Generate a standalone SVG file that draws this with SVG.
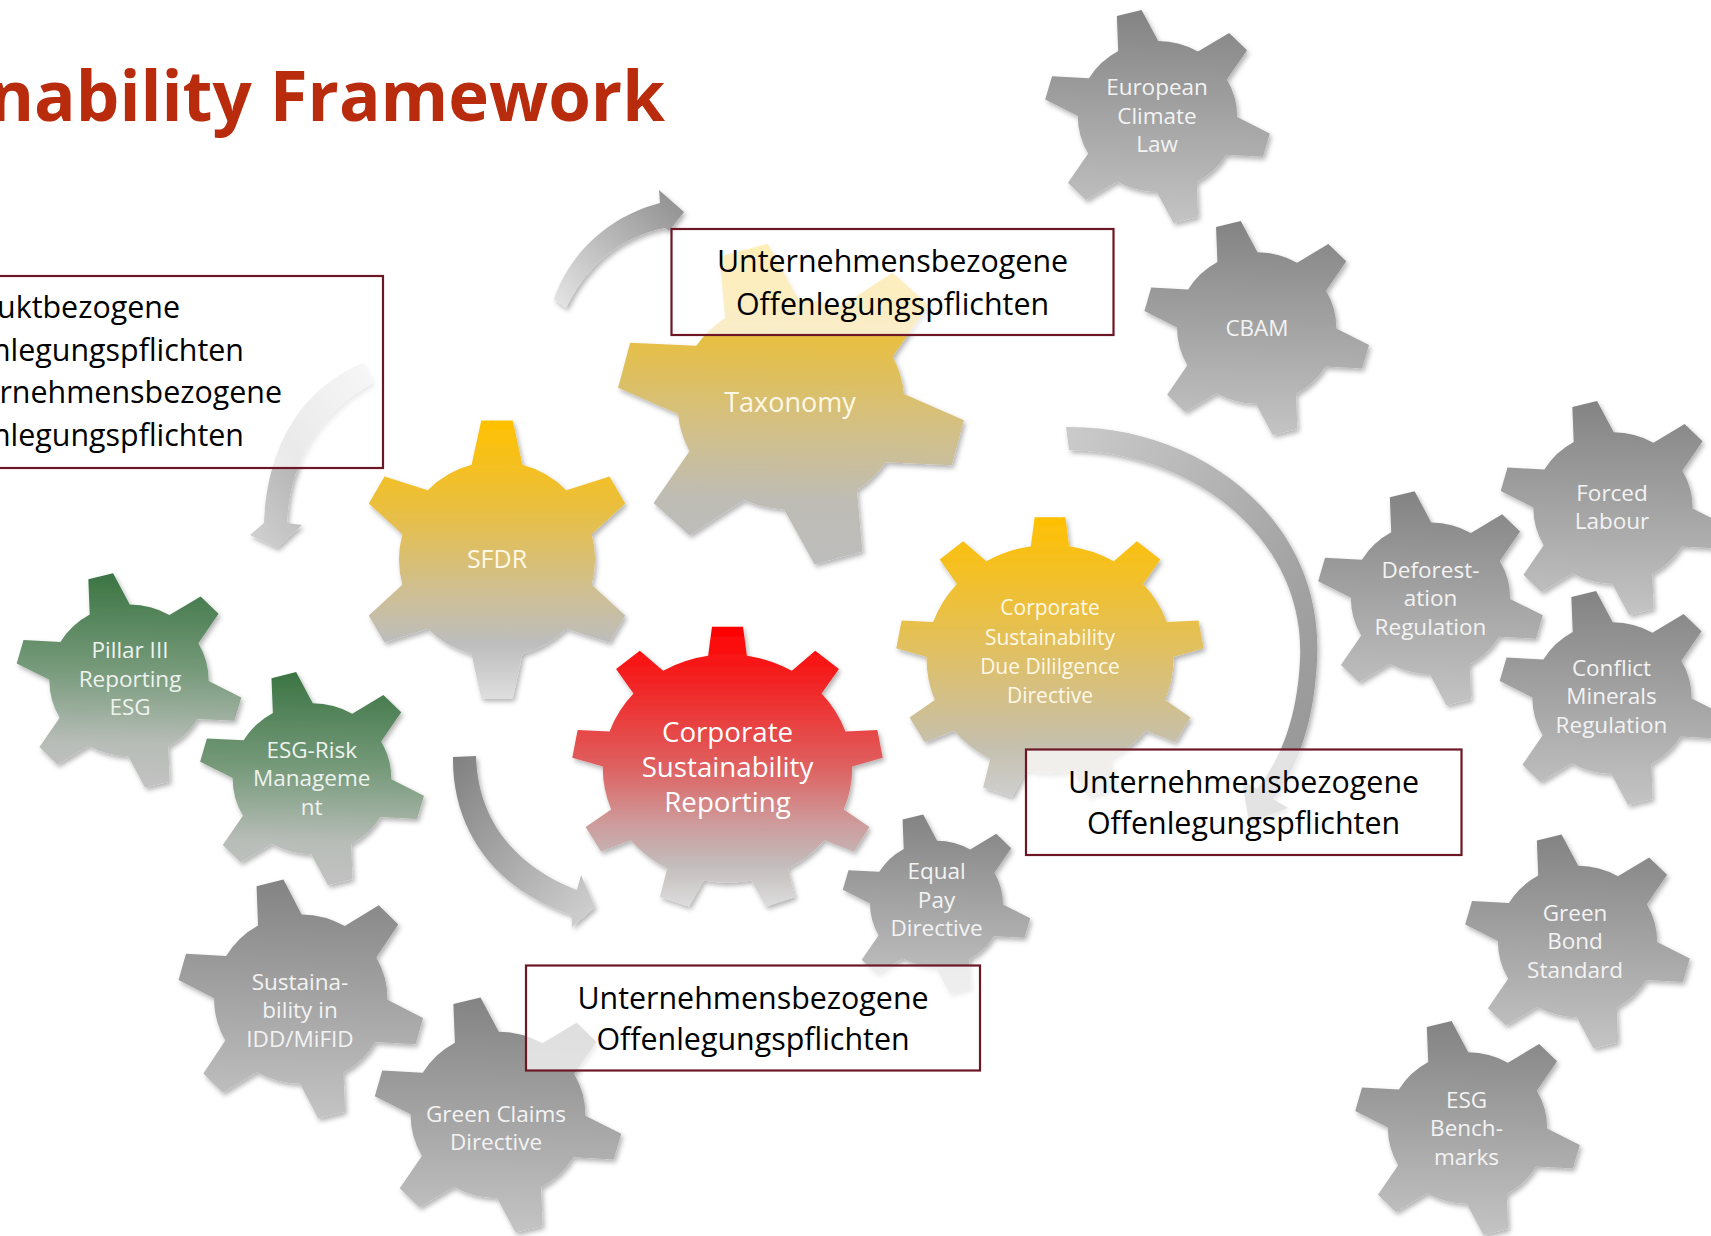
<svg xmlns="http://www.w3.org/2000/svg" width="1711" height="1236" viewBox="0 0 1711 1236">
<defs>
<style>
.t{font-family:"Open Sans","Noto Sans","DejaVu Sans",sans-serif;text-anchor:middle}
.gw{fill:#F3F3F3;font-size:22.5px}
.gg{fill:#EEF3EE;font-size:22.5px}
.gy{fill:#FFF8E6}
.bt{fill:#000;font-size:30.4px}
.box{fill:#fff;fill-opacity:0.72;stroke:#6D1625;stroke-width:2.2}
.title{font-family:"Open Sans","Noto Sans",sans-serif;font-weight:700;font-size:69px;fill:#B92B0D;text-anchor:end}
</style>
<path id="g6" d="M-18.3,-68.08 L-11.3,-100 L11.3,-100 L18.3,-68.08 A70.5,70.5 0 0 1 49.81,-49.89 L80.95,-59.79 L92.25,-40.21 L68.11,-18.19 A70.5,70.5 0 0 1 68.11,18.19 L92.25,40.21 L80.95,59.79 L49.81,49.89 A70.5,70.5 0 0 1 18.3,68.08 L11.3,100 L-11.3,100 L-18.3,68.08 A70.5,70.5 0 0 1 -49.81,49.89 L-80.95,59.79 L-92.25,40.21 L-68.11,18.19 A70.5,70.5 0 0 1 -68.11,-18.19 L-92.25,-40.21 L-80.95,-59.79 L-49.81,-49.89 A70.5,70.5 0 0 1 -18.3,-68.08 Z"/>
<path id="gT" d="M-22,-62.23 L-14.5,-100 L14.5,-100 L22,-62.23 A66,66 0 0 1 42.89,-50.17 L79.35,-62.56 L93.85,-37.44 L64.89,-12.07 A66,66 0 0 1 64.89,12.07 L93.85,37.44 L79.35,62.56 L42.89,50.17 A66,66 0 0 1 22,62.23 L14.5,100 L-14.5,100 L-22,62.23 A66,66 0 0 1 -42.89,50.17 L-79.35,62.56 L-93.85,37.44 L-64.89,12.07 A66,66 0 0 1 -64.89,-12.07 L-93.85,-37.44 L-79.35,-62.56 L-42.89,-50.17 A66,66 0 0 1 -22,-62.23 Z"/>
<path id="g9" d="M-12.5,-79.52 L-10,-100 L10,-100 L12.5,-79.52 A80.5,80.5 0 0 1 41.54,-68.95 L56.62,-83.03 L71.94,-70.17 L60.69,-52.88 A80.5,80.5 0 0 1 76.14,-26.11 L96.74,-27.21 L100.22,-7.51 L80.48,-1.49 A80.5,80.5 0 0 1 75.11,28.94 L91.6,41.34 L81.6,58.66 L62.61,50.59 A80.5,80.5 0 0 1 38.95,70.45 L43.6,90.55 L24.8,97.39 L15.45,79 A80.5,80.5 0 0 1 -15.45,79 L-24.8,97.39 L-43.6,90.55 L-38.95,70.45 A80.5,80.5 0 0 1 -62.61,50.59 L-81.6,58.66 L-91.6,41.34 L-75.11,28.94 A80.5,80.5 0 0 1 -80.48,-1.49 L-100.22,-7.51 L-96.74,-27.21 L-76.14,-26.11 A80.5,80.5 0 0 1 -60.69,-52.88 L-71.94,-70.17 L-56.62,-83.03 L-41.54,-68.95 A80.5,80.5 0 0 1 -12.5,-79.52 Z"/>
<linearGradient id="gGray" x1="0.625" y1="0.016" x2="0.375" y2="0.984"><stop offset="0" stop-color="#838383"/><stop offset="1" stop-color="#C4C4C4"/></linearGradient>
<linearGradient id="gGreen" x1="0.625" y1="0.016" x2="0.375" y2="0.984"><stop offset="0" stop-color="#3B7443"/><stop offset="0.45" stop-color="#769A7A"/><stop offset="0.8" stop-color="#B8BDB8"/><stop offset="1" stop-color="#C2C2C2"/></linearGradient>
<linearGradient id="gSFDR" x1="0" y1="0" x2="0" y2="1"><stop offset="0" stop-color="#FFC100"/><stop offset="0.3" stop-color="#EBBF3C"/><stop offset="0.6" stop-color="#D0BF8E"/><stop offset="0.8" stop-color="#BDBDBD"/><stop offset="1" stop-color="#DEDEDE"/></linearGradient>
<linearGradient id="gTax" x1="0.638" y1="0.02" x2="0.362" y2="0.98"><stop offset="0" stop-color="#FFC000"/><stop offset="0.35" stop-color="#E3BF4F"/><stop offset="0.6" stop-color="#D1C08C"/><stop offset="0.8" stop-color="#BEBCB4"/><stop offset="1" stop-color="#BDBDBD"/></linearGradient>
<linearGradient id="gCSDDD" x1="0" y1="0" x2="0" y2="1"><stop offset="0" stop-color="#FFC000"/><stop offset="0.3" stop-color="#EDC03A"/><stop offset="0.6" stop-color="#D7C07E"/><stop offset="0.82" stop-color="#C5C0AE"/><stop offset="1" stop-color="#CFCFCF"/></linearGradient>
<linearGradient id="gCSR" x1="0" y1="0" x2="0" y2="1"><stop offset="0" stop-color="#FF0000"/><stop offset="0.25" stop-color="#EF2D2D"/><stop offset="0.5" stop-color="#DF6060"/><stop offset="0.7" stop-color="#CE9A9A"/><stop offset="0.85" stop-color="#C3BCBC"/><stop offset="1" stop-color="#DDDDDD"/></linearGradient>
<linearGradient id="gA1" x1="0" y1="1" x2="1" y2="0"><stop offset="0" stop-color="#E6E6E6"/><stop offset="1" stop-color="#8C8C8C"/></linearGradient>
<linearGradient id="gA2" x1="1" y1="0" x2="0" y2="1"><stop offset="0" stop-color="#E3E3E3"/><stop offset="0.55" stop-color="#B3B3B3"/><stop offset="1" stop-color="#D2D2D2"/></linearGradient>
<linearGradient id="gA3" x1="0" y1="0" x2="1" y2="1"><stop offset="0" stop-color="#808080"/><stop offset="1" stop-color="#D3D3D3"/></linearGradient>
<linearGradient id="gA4" x1="0" y1="0" x2="1" y2="1"><stop offset="0" stop-color="#CBCBCB"/><stop offset="0.6" stop-color="#A5A5A5"/><stop offset="1" stop-color="#939393"/></linearGradient>
<filter id="sh" x="-10%" y="-10%" width="125%" height="125%"><feDropShadow dx="2" dy="3" stdDeviation="2.5" flood-color="#000" flood-opacity="0.3"/></filter>
</defs>
<rect width="1711" height="1236" fill="#fff"/>
<text class="title" x="665" y="121">nability Framework</text>

<g id="connectors">
<path filter="url(#sh)" fill="url(#gA1)" d="M554,299 C569,254 609,216 660,203 L659,190 L684,212 L669,231 L665,228 C621,236 586,266 566,308 Z"/>
<path filter="url(#sh)" fill="url(#gA2)" d="M363,363 C310,385 268,435 264,523 L250,535 L277,548 L302,525 L287,523 C290,460 320,412 373,383 Z"/>
<path filter="url(#sh)" fill="url(#gA3)" d="M453,757 C452,830 495,890 572,915 L572,927 L595,907 L581,875 L577,890 C520,868 478,825 476,756 Z"/>
<path filter="url(#sh)" fill="url(#gA4)" d="M1066,427 C1200,425 1325,520 1317,660 C1314,725 1297,768 1273,799 L1288,808 L1249,822 L1242,780 L1257,789 C1280,760 1297,720 1300,660 C1306,540 1195,452 1069,450 Z"/>
</g>

<g id="gear-taxonomy">
<g filter="url(#sh)"><use href="#gT" transform="translate(791 404) scale(1.72 1.6) rotate(-16)" fill="url(#gTax)"/></g>
<text class="t gy" x="790" y="412" font-size="27">Taxonomy</text>
</g>
<g id="gear-sfdr">
<g filter="url(#sh)"><use href="#g6" transform="translate(497 559.5) scale(1.39 1.39)" fill="url(#gSFDR)"/></g>
<text class="t gy" x="497" y="568" font-size="25">SFDR</text>
</g>
<g id="gear-csddd">
<g filter="url(#sh)"><use href="#g9" transform="translate(1050 659) scale(1.534 1.418)" fill="url(#gCSDDD)"/></g>
<text class="t gy" font-size="21"><tspan x="1050" y="615">Corporate</tspan><tspan x="1050" y="644.5">Sustainability</tspan><tspan x="1050" y="674">Due Dililgence</tspan><tspan x="1050" y="702.5">Directive</tspan></text>
</g>
<g id="gear-csr">
<g filter="url(#sh)"><use href="#g9" transform="translate(727.5 768.5) scale(1.549 1.418)" fill="url(#gCSR)"/></g>
<text class="t" fill="#FFFFFF" font-size="27.7"><tspan x="727.5" y="741.5">Corporate</tspan><tspan x="727.5" y="776.5">Sustainability</tspan><tspan x="727.5" y="811.5">Reporting</tspan></text>
</g>
<g id="gear-ecl">
<g filter="url(#sh)"><use href="#g6" transform="translate(1157.5 116.5) scale(1.13 1.07) rotate(-14.5)" fill="url(#gGray)"/></g>
<text class="t gw"><tspan x="1157" y="95">European</tspan><tspan x="1157" y="123.5">Climate</tspan><tspan x="1157" y="152">Law</tspan></text>
</g>
<g id="gear-cbam">
<g filter="url(#sh)"><use href="#g6" transform="translate(1256.7 328) scale(1.13 1.075) rotate(-14.5)" fill="url(#gGray)"/></g>
<text class="t gw" x="1257" y="336">CBAM</text>
</g>
<g id="gear-forced">
<g filter="url(#sh)"><use href="#g6" transform="translate(1613 508) scale(1.13 1.075) rotate(-14.5)" fill="url(#gGray)"/></g>
<text class="t gw"><tspan x="1612" y="500.5">Forced</tspan><tspan x="1612" y="528.5">Labour</tspan></text>
</g>
<g id="gear-deforestation">
<g filter="url(#sh)"><use href="#g6" transform="translate(1430.5 598.3) scale(1.13 1.075) rotate(-14.5)" fill="url(#gGray)"/></g>
<text class="t gw"><tspan x="1430.5" y="577.5">Deforest-</tspan><tspan x="1430.5" y="606">ation</tspan><tspan x="1430.5" y="634.5">Regulation</tspan></text>
</g>
<g id="gear-conflict">
<g filter="url(#sh)"><use href="#g6" transform="translate(1612 698) scale(1.13 1.075) rotate(-14.5)" fill="url(#gGray)"/></g>
<text class="t gw"><tspan x="1611.5" y="675.5">Conflict</tspan><tspan x="1611.5" y="704">Minerals</tspan><tspan x="1611.5" y="732.5">Regulation</tspan></text>
</g>
<g id="gear-greenbond">
<g filter="url(#sh)"><use href="#g6" transform="translate(1577.5 941.5) scale(1.13 1.075) rotate(-14.5)" fill="url(#gGray)"/></g>
<text class="t gw"><tspan x="1575" y="920.5">Green</tspan><tspan x="1575" y="949">Bond</tspan><tspan x="1575" y="977.5">Standard</tspan></text>
</g>
<g id="gear-benchmarks">
<g filter="url(#sh)"><use href="#g6" transform="translate(1467.5 1128) scale(1.13 1.075) rotate(-14.5)" fill="url(#gGray)"/></g>
<text class="t gw"><tspan x="1466.5" y="1107.5">ESG</tspan><tspan x="1466.5" y="1136">Bench-</tspan><tspan x="1466.5" y="1164.5">marks</tspan></text>
</g>
<g id="gear-equalpay">
<g filter="url(#sh)"><use href="#g6" transform="translate(936.5 904) scale(0.943 0.898) rotate(-14.5)" fill="url(#gGray)"/></g>
<text class="t gw"><tspan x="936.5" y="879">Equal</tspan><tspan x="936.5" y="907.5">Pay</tspan><tspan x="936.5" y="936">Directive</tspan></text>
</g>
<g id="gear-idd">
<g filter="url(#sh)"><use href="#g6" transform="translate(300.8 999) scale(1.23 1.2) rotate(-14.5)" fill="url(#gGray)"/></g>
<text class="t gw"><tspan x="300" y="989.5">Sustaina-</tspan><tspan x="300" y="1018">bility in</tspan><tspan x="300" y="1046.5">IDD/MiFID</tspan></text>
</g>
<g id="gear-greenclaims">
<g filter="url(#sh)"><use href="#g6" transform="translate(498 1115) scale(1.24 1.18) rotate(-14.5)" fill="url(#gGray)"/></g>
<text class="t gw"><tspan x="496" y="1121.5">Green Claims</tspan><tspan x="496" y="1150">Directive</tspan></text>
</g>
<g id="gear-pillar3">
<g filter="url(#sh)"><use href="#g6" transform="translate(129 680.4) scale(1.13 1.075) rotate(-14.5)" fill="url(#gGreen)"/></g>
<text class="t gg"><tspan x="130" y="658">Pillar III</tspan><tspan x="130" y="686.5">Reporting</tspan><tspan x="130" y="715">ESG</tspan></text>
</g>
<g id="gear-esgrisk">
<g filter="url(#sh)"><use href="#g6" transform="translate(312 778.7) scale(1.126 1.07) rotate(-14.5)" fill="url(#gGreen)"/></g>
<text class="t gg"><tspan x="311.7" y="757.5">ESG-Risk</tspan><tspan x="311.7" y="786">Manageme</tspan><tspan x="311.7" y="814.5">nt</tspan></text>
</g>

<g id="box-top">
<rect class="box" x="671.5" y="229" width="442" height="106"/>
<text class="t bt"><tspan x="892.5" y="272">Unternehmensbezogene</tspan><tspan x="892.5" y="314.5">Offenlegungspflichten</tspan></text>
</g>
<g id="box-left">
<rect class="box" x="-5" y="276" width="388" height="192"/>
<text class="bt" font-family="Open Sans, Noto Sans, sans-serif" text-anchor="end"><tspan x="180" y="318">uktbezogene</tspan><tspan x="244" y="360.5">nlegungspflichten</tspan><tspan x="282" y="403">rnehmensbezogene</tspan><tspan x="244" y="445.5">nlegungspflichten</tspan></text>
</g>
<g id="box-right">
<rect class="box" x="1026" y="749.5" width="435.5" height="105.5"/>
<text class="t bt"><tspan x="1243.5" y="792.5">Unternehmensbezogene</tspan><tspan x="1243.5" y="834">Offenlegungspflichten</tspan></text>
</g>
<g id="box-bottom">
<rect class="box" x="526" y="965.5" width="454" height="105"/>
<text class="t bt"><tspan x="753" y="1008.5">Unternehmensbezogene</tspan><tspan x="753" y="1050">Offenlegungspflichten</tspan></text>
</g>
</svg>
